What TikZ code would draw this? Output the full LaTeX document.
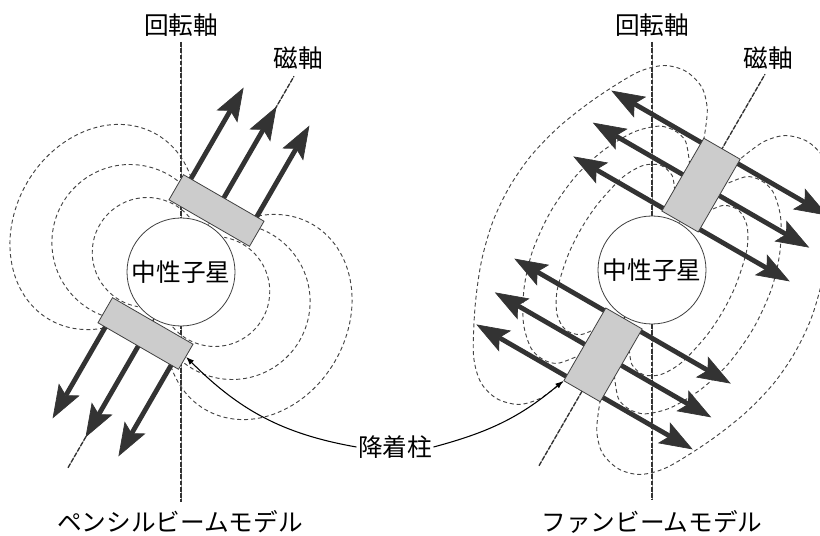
\documentclass[tikz,border=0pt]{standalone}
\usepackage{fontspec}
\newfontfamily\jpfont{Noto Sans CJK JP}
\usetikzlibrary{arrows.meta}
\definecolor{beamgray}{HTML}{333333}
\definecolor{colgray}{HTML}{CCCCCC}
\definecolor{fieldgray}{HTML}{444444}

\tikzset{
    fieldline/.style={draw=fieldgray, line width=0.7pt, dash pattern=on 3pt off 2.2pt},
    rotaxis/.style={draw=black!80, line width=1.4pt, dash pattern=on 3.5pt off 1.2pt,
        preaction={draw=black!45, solid, line width=0.5pt}},
    magaxis/.style={rotaxis, line width=1pt},
    beamarrow/.style={draw=beamgray, line width=3.6pt,
        >={Stealth[length=25pt, width=18pt, inset=5pt, line width=0.5pt]}},
    nstar/.style={circle, draw=black!75, fill=white, line width=0.6pt, minimum size=81pt, inner sep=0pt},
    colbox/.style={draw=black!75, fill=colgray, line width=0.6pt, inner sep=0pt},
    pointer/.style={draw=black, line width=0.8pt, -{Latex[length=6pt, width=4.5pt]}}
}

\begin{document}
\begin{tikzpicture}[x=0.75pt, y=0.75pt, font=\jpfont\fontsize{18.5pt}{22pt}\selectfont]
    \useasboundingbox (0,0) rectangle (820,535);
    \coordinate (lcenter) at (181,263);
    \coordinate (rcenter) at (652,265);

    % pencil beam model
    \begin{scope}[shift={(lcenter)}]
        \draw[rotaxis] (0,230) -- (0,-230); % rotation axis
        \draw[magaxis] (240:226) -- (60:226); % magnetic axis
        \begin{scope}[rotate=-30]
            \foreach \r in {0,180}{
                \begin{scope}[rotate=\r]
                    \draw[fieldline] (-90,0) ++(50:88 and 107) arc[start angle=50, end angle=310, x radius=88, y radius=107]; % outer loop
                    \draw[fieldline] (-59,0) ++(67:78) arc[start angle=67, end angle=293, radius=78];
                    \draw[fieldline] (-39,0) ++(70:55) arc[start angle=70, end angle=290, radius=55]; % inner loop
                \end{scope}
            }
            \foreach \s in {-38,0,38}{
                \draw[beamarrow, ->] (\s,80) -- (\s,191);
                \draw[beamarrow, ->] (\s,-80) -- (\s,-191);
            }
        \end{scope}
        \node[nstar] (lstar) at (0,0) {中性子星};
        \node[colbox, minimum width=69.75pt, minimum height=21.75pt, rotate=-30] (lcolup) at (60:71) {};
        \node[colbox, minimum width=69.75pt, minimum height=21.75pt, rotate=-30] (lcoldn) at (240:71) {};
    \end{scope}
    \node (lrotlabel) at (181,509.5) {回転軸};
    \node (lmaglabel) at (298,477) {磁軸};
    \node (lname) at (180,13) {ペンシルビームモデル};

    % fan beam model
    \begin{scope}[shift={(rcenter)}]
        \draw[rotaxis] (0,228) -- (0,-230); % rotation axis
        \draw[magaxis] (240:226) -- (60:226); % magnetic axis
        \begin{scope}[rotate=-30]
            \foreach \r in {0,180}{
                \begin{scope}[rotate=\r]
                    \draw[fieldline] plot[smooth] coordinates {(-20,138) (-32,166) (-48,183) (-70,189) (-92,183) (-112,163) (-135,120) (-152,78) (-162,38) (-165,0) (-162,-38) (-152,-78) (-135,-120) (-112,-163) (-92,-183) (-70,-189) (-48,-183) (-32,-166) (-20,-138)}; % outer loop
                    \draw[fieldline] plot[smooth] coordinates {(-20,110) (-35,128) (-50,132) (-66,128) (-85,110) (-102,79) (-113,43) (-117,0) (-113,-43) (-102,-79) (-85,-110) (-66,-128) (-50,-132) (-35,-128) (-20,-110)};
                    \draw[fieldline] plot[smooth] coordinates {(-20,80) (-30,92) (-45,95) (-60,86) (-72,65) (-80,30) (-82,0) (-80,-30) (-72,-65) (-60,-86) (-45,-95) (-30,-92) (-20,-80)}; % inner loop
                \end{scope}
            }
            \foreach \t in {59,98,135}{
                \draw[beamarrow, <->] (-125,\t) -- (125,\t);
                \draw[beamarrow, <->] (-125,-\t) -- (125,-\t);
            }
        \end{scope}
        \node[nstar] (rstar) at (0,0) {中性子星};
        \node[colbox, minimum width=31.5pt, minimum height=63pt, rotate=-30] (rcolup) at (60:98) {};
        \node[colbox, minimum width=31.5pt, minimum height=63pt, rotate=-30] (rcoldn) at (240:98) {};
    \end{scope}
    \node (rrotlabel) at (652,509.5) {回転軸};
    \node (rmaglabel) at (768,477) {磁軸};
    \node (rname) at (652,13) {ファンビームモデル};

    % accretion columns
    \node[inner sep=1pt] (acc) at (395,88) {降着柱};
    \draw[pointer] (acc.west) to[out=170, in=-45] (lcoldn.east);
    \draw[pointer] (acc.east) to[out=15, in=-140] (rcoldn.south west);
\end{tikzpicture}
\end{document}
